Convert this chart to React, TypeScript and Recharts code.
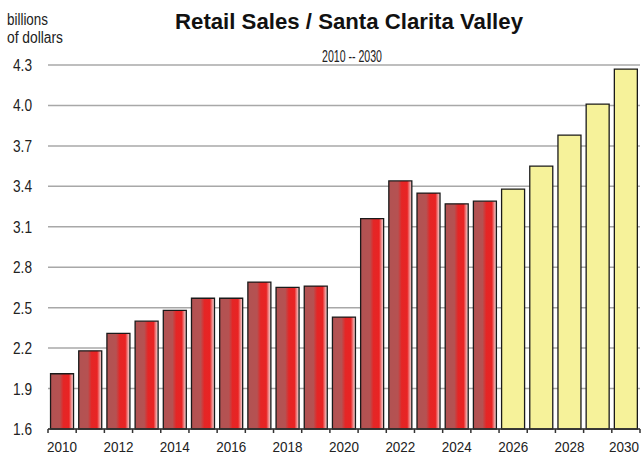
import { Bar, BarChart, CartesianGrid, Cell, XAxis, YAxis } from 'recharts';

const years = [
  '2010', '2011', '2012', '2013', '2014', '2015', '2016', '2017', '2018', '2019', '2020',
  '2021', '2022', '2023', '2024', '2025', '2026', '2027', '2028', '2029', '2030'
];
const sales = [
  2.01, 2.18, 2.31, 2.4, 2.48, 2.57, 2.57, 2.69, 2.65, 2.66, 2.43,
  3.16, 3.44, 3.35, 3.27, 3.29, 3.38, 3.55, 3.78, 4.01, 4.27
];
const yTicks = [1.6, 1.9, 2.2, 2.5, 2.8, 3.1, 3.4, 3.7, 4.0, 4.3];
const firstForecastYear = 2026;

const data = years.map((year, i) => ({ year, sales: sales[i] }));

// no narrow font installed, so squeeze Liberation Sans with textLength
const FONT = '"Liberation Sans", Arial, sans-serif';

function YearTick(props: any) {
  const { x, y, payload, index, width, visibleTicksCount } = props;
  const step = width / visibleTicksCount;
  const showLabel = Number(payload.value) % 2 === 0;
  const isLast = index === visibleTicksCount - 1;
  return (
    <g>
      <line x1={x - step / 2} x2={x - step / 2} y1={y} y2={y + 4} stroke='#333' strokeWidth={1.5} />
      {isLast && (
        <line x1={x + step / 2} x2={x + step / 2} y1={y} y2={y + 4} stroke='#333' strokeWidth={1.5} />
      )}
      {showLabel && (
        <text
          x={isLast ? x - 2 : x}
          y={y + 23}
          textAnchor='middle'
          fontSize={14.5}
          fontFamily={FONT}
          fill='#222'
          textLength={30}
          lengthAdjust='spacingAndGlyphs'
        >
          {payload.value}
        </text>
      )}
    </g>
  );
}

function ValueTick(props: any) {
  const { x, y, payload } = props;
  return (
    <text
      x={x - 16}
      y={y + 6}
      textAnchor='end'
      fontSize={16}
      fontFamily={FONT}
      fill='#222'
      textLength={19}
      lengthAdjust='spacingAndGlyphs'
    >
      {Number(payload.value).toFixed(1)}
    </text>
  );
}

function App() {
  return (
    <div style={{ position: 'absolute', left: 0, top: 0, width: 642, height: 458, background: '#fff' }}>
      <BarChart
        width={642}
        height={458}
        data={data}
        margin={{ top: 65, right: 2, bottom: 0, left: 0 }}
        barCategoryGap='9%'
      >
        <defs>
          <linearGradient id='redBar' x1='0' y1='0' x2='1' y2='0'>
            <stop offset='0' stopColor='#b25252' />
            <stop offset='0.4' stopColor='#b55252' />
            <stop offset='0.56' stopColor='#e42626' />
            <stop offset='0.8' stopColor='#e92323' />
            <stop offset='0.92' stopColor='#ef9c9c' />
            <stop offset='1' stopColor='#f4dada' />
          </linearGradient>
        </defs>
        <text
          x={349}
          y={29}
          textAnchor='middle'
          fontSize={22}
          fontWeight='bold'
          fontFamily={FONT}
          fill='#111'
          textLength={348}
          lengthAdjust='spacingAndGlyphs'
        >
          Retail Sales / Santa Clarita Valley
        </text>
        <text
          x={352}
          y={62}
          textAnchor='middle'
          fontSize={17}
          fontFamily={FONT}
          fill='#222'
          textLength={60}
          lengthAdjust='spacingAndGlyphs'
        >
          2010 -- 2030
        </text>
        <text x={7} y={25} fontSize={16} fontFamily={FONT} fill='#222' textLength={41} lengthAdjust='spacingAndGlyphs'>
          billions
        </text>
        <text x={7} y={43} fontSize={16} fontFamily={FONT} fill='#222' textLength={56} lengthAdjust='spacingAndGlyphs'>
          of dollars
        </text>
        <CartesianGrid vertical={false} stroke='#a8a8a8' strokeWidth={1.5} />
        <XAxis
          dataKey='year'
          height={29}
          interval={0}
          tickSize={0}
          tickMargin={0}
          tickLine={false}
          axisLine={{ stroke: '#333', strokeWidth: 1.5 }}
          tick={<YearTick />}
        />
        <YAxis
          width={48}
          domain={[1.6, 4.3]}
          ticks={yTicks}
          axisLine={false}
          tickLine={false}
          tickSize={0}
          tickMargin={0}
          tick={<ValueTick />}
        />
        <Bar dataKey='sales' stroke='#1a1a1a' strokeWidth={1.3} isAnimationActive={false}>
          {data.map((d) => (
            <Cell
              key={d.year}
              fill={Number(d.year) >= firstForecastYear ? '#f6f29a' : 'url(#redBar)'}
            />
          ))}
        </Bar>
      </BarChart>
    </div>
  );
}

export default App;
